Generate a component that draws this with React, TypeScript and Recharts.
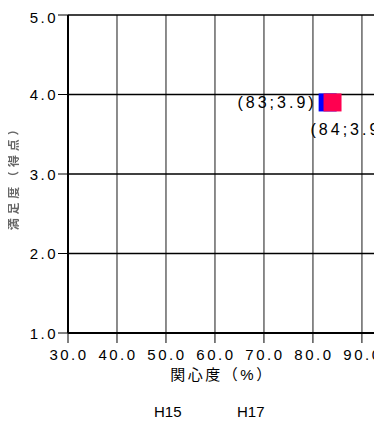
import {
  ScatterChart,
  Scatter,
  XAxis,
  YAxis,
  CartesianGrid,
  Legend,
  Label,
} from "recharts";

const xTicks = [30, 40, 50, 60, 70, 80, 90];
const yTicks = [1, 2, 3, 4, 5];
const xDomain = [30, 94.1];
const yDomain = [1, 5];

const h15 = [{ x: 83, y: 3.9 }];
const h17 = [{ x: 84, y: 3.9 }];

const seriesNames = ["H15", "H17"];
const xTitle = "関心度（%）";
const yTitle = "満足度（得点）";

const FONT = "'Liberation Sans', Arial, 'Noto Sans CJK JP', sans-serif";

function pointShape(color: string, labelSide: "left" | "below") {
  return (p: any) => {
    const { cx, cy, payload } = p;
    const text = `(${payload.x};${payload.y.toFixed(1)})`;
    return (
      <g>
        <rect x={cx - 9} y={cy - 9} width={18} height={18} fill={color} />
        {labelSide === "left" ? (
          <text
            x={cx - 11}
            y={cy}
            textAnchor="end"
            dominantBaseline="central"
            fontSize={16}
            fill="#000"
            style={{ letterSpacing: 3 }}
          >
            {text}
          </text>
        ) : (
          <text
            x={cx - 22}
            y={cy + 27}
            textAnchor="start"
            dominantBaseline="central"
            fontSize={16}
            fill="#000"
            style={{ letterSpacing: 3 }}
          >
            {text}
          </text>
        )}
      </g>
    );
  };
}

const XTick = (props: any) => {
  const { x, y, payload } = props;
  return (
    <text x={x + 1} y={y + 17} textAnchor="middle" fontSize={15} fill="#000" style={{ letterSpacing: 2.5 }}>
      {Number(payload.value).toFixed(1)}
    </text>
  );
};

const YTick = (props: any) => {
  const { x, y, payload } = props;
  return (
    <text x={x} y={y} textAnchor="end" dominantBaseline="central" fontSize={15} fill="#000" style={{ letterSpacing: 2.5 }}>
      {Number(payload.value).toFixed(1)}
    </text>
  );
};

const LegendText = ({ payload }: any) => (
  <div style={{ position: "relative", height: 30, fontSize: 15, fontFamily: FONT, color: "#000" }}>
    {(payload || []).map((item: any, i: number) => (
      <span key={item.value} style={{ position: "absolute", left: 146, marginLeft: i * 83, top: 10, lineHeight: "17px" }}>
        {item.value}
      </span>
    ))}
  </div>
);

export default function App() {
  return (
    <div style={{ width: 374, height: 415, overflow: "hidden", fontFamily: FONT }}>
      <style>{"html, body { overflow: hidden; }"}</style>
      <ScatterChart width={374} height={415} margin={{ top: 7, right: 0, bottom: 0, left: 0 }}>
        <defs>
          <filter id="soft">
            <feGaussianBlur stdDeviation="0.6" />
          </filter>
        </defs>
        <CartesianGrid horizontal={false} stroke="#666" strokeWidth={1.5} />
        <CartesianGrid vertical={false} stroke="#000" strokeWidth={1.5} />
        <XAxis
          type="number"
          dataKey="x"
          domain={xDomain}
          ticks={xTicks}
          allowDataOverflow
          height={60}
          tickSize={10}
          tickMargin={0}
          axisLine={{ stroke: "#000", strokeWidth: 2 }}
          tickLine={{ stroke: "#000" }}
          tick={<XTick />}
        >
          <Label
            value={xTitle}
            content={({ viewBox }: any) => (
              <text
                x={viewBox.x + viewBox.width / 2 - 3}
                y={viewBox.y + 47}
                textAnchor="middle"
                fontSize={15}
                fill="#000"
                style={{ letterSpacing: 2.5 }}
              >
                {xTitle}
              </text>
            )}
          />
        </XAxis>
        <YAxis
          type="number"
          dataKey="y"
          domain={yDomain}
          ticks={yTicks}
          width={60}
          tickSize={10}
          tickMargin={0}
          axisLine={{ stroke: "#000", strokeWidth: 2 }}
          tickLine={{ stroke: "#000" }}
          tick={<YTick />}
        >
          <Label
            value={yTitle}
            content={({ viewBox }: any) => {
              const cy = viewBox.y + viewBox.height / 2 + 1;
              return (
                <text
                  x={6}
                  y={cy}
                  transform={`rotate(-90, 6, ${cy})`}
                  textAnchor="middle"
                  dominantBaseline="central"
                  fontSize={12}
                  fontWeight="bold"
                  fill="#666"
                  filter="url(#soft)"
                  style={{ letterSpacing: 3.8 }}
                >
                  {yTitle}
                </text>
              );
            }}
          />
        </YAxis>
        <Legend verticalAlign="bottom" content={<LegendText />} />
        <Scatter
          name={seriesNames[0]}
          data={h15}
          fill="#0000ff"
          shape={pointShape("#0000ff", "left")}
          isAnimationActive={false}
        />
        <Scatter
          name={seriesNames[1]}
          data={h17}
          fill="#ff0050"
          shape={pointShape("#ff0050", "below")}
          isAnimationActive={false}
        />
      </ScatterChart>
    </div>
  );
}
